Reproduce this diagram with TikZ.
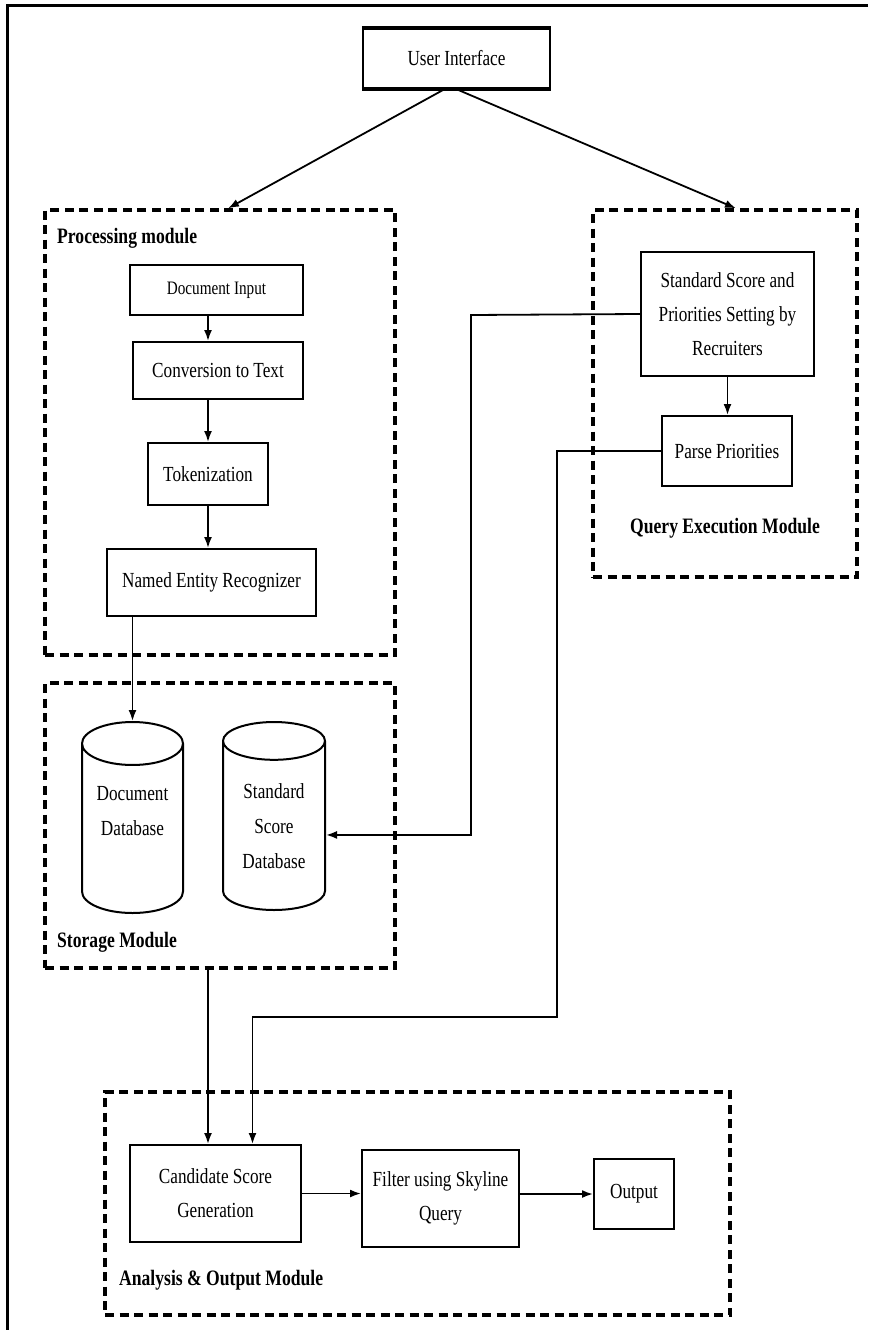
\documentclass[tikz,border=0pt]{standalone}
\usepackage{fontspec}
\setmainfont{Liberation Serif}[FakeStretch=0.8]
\usetikzlibrary{shapes.geometric, arrows.meta, positioning}

\tikzset{
    box/.style={draw, line width=2pt, inner sep=0pt, align=center,
        font=\fontsize{21.5}{34}\selectfont},
    dbase/.style={cylinder, shape border rotate=90, aspect=0.6, draw,
        line width=2pt, inner sep=0pt, align=center, anchor=shape center,
        font=\fontsize{21.5}{35}\selectfont},
    module/.style={draw, line width=3.3pt, dash pattern=on 9pt off 5.5pt,
        inner sep=0pt},
    modlabel/.style={anchor=west, inner sep=0pt, font=\fontsize{22}{26}\selectfont\bfseries},
    arr/.style={-{Latex[length=11pt,width=8pt]}, line width=1.8pt}
}

\begin{document}
\begin{tikzpicture}[x=1pt, y=-1pt]
    \useasboundingbox (0,0) rectangle (868,1330);
    % outer frame (top and left only)
    \draw[line width=3pt] (868,6) -- (7,6) -- (7,1330);

    % User interface
    \node[box, line width=2.4pt, minimum width=187, minimum height=59] (ui) at (456.5,58.5) {User Interface};
    \draw[line width=4.5pt] (ui.north west) -- (ui.north east);
    \draw[line width=4.5pt] (ui.south west) -- (ui.south east);

    % Module frames
    \node[module, minimum width=350, minimum height=445] (proc) at (220,432.5) {};
    \node[module, minimum width=350, minimum height=285] (stor) at (220,825.5) {};
    \node[module, minimum width=264, minimum height=367] (query) at (725,393.5) {};
    \node[module, minimum width=625, minimum height=223] (anl) at (417.5,1203.5) {};

    \node[modlabel] (proclbl) at (57,238) {Processing module};
    \node[modlabel] (storlbl) at (57,942) {Storage Module};
    \node[modlabel, anchor=center] (querylbl) at (725,528) {Query Execution Module};
    \node[modlabel] (anllbl) at (119,1280) {Analysis \& Output Module};

    % Processing module
    \node[box, font=\fontsize{19}{30}\selectfont, minimum width=173, minimum height=50] (din) at (216.5,290) {Document Input};
    \node[box, minimum width=170, minimum height=57] (conv) at (218,370.5) {Conversion to Text};
    \node[box, minimum width=120, minimum height=62] (tok) at (208,474) {Tokenization};
    \node[box, minimum width=209, minimum height=67] (ner) at (211.5,582.5) {Named Entity Recognizer};

    % Storage module
    \node[dbase, minimum width=101, minimum height=191] (docdb) at (132.5,817.5) {Document\\Database\\\mbox{}};
    \node[dbase, minimum width=102, minimum height=188] (stddb) at (274,816) {Standard\\Score\\Database};

    % Query execution module
    \node[box, minimum width=173, minimum height=124] (std) at (727.5,314) {Standard Score and\\Priorities Setting by\\Recruiters};
    \node[box, minimum width=130, minimum height=70] (parse) at (727,451) {Parse Priorities};

    % Analysis & output module
    \node[box, minimum width=171, minimum height=97] (cand) at (215.5,1193.5) {Candidate Score\\Generation};
    \node[box, minimum width=157, minimum height=97] (filter) at (440.5,1198.5) {Filter using Skyline\\Query};
    \node[box, minimum width=80, minimum height=70] (output) at (634,1194) {Output};

    % bends
    \coordinate (jogA) at (471,315);
    \coordinate (jogB) at (557,1017);

    % Connectors
    \draw[arr] ([xshift=-12pt]ui.south) -- ([xshift=8pt]proc.north);
    \draw[arr] (ui.south) -- ([xshift=11pt]query.north);
    \draw[arr] (din.south -| tok.center) -- (conv.north -| tok.center);
    \draw[arr] (conv.south -| tok.center) -- (tok.north);
    \draw[arr] (tok.south) -- (ner.north -| tok.center);
    \draw[arr] (ner.south -| docdb.north) -- (docdb.north);
    \draw[arr] (std.south) -- (parse.north -| std.south);
    \draw[arr] (std.west) -- (jogA) |- ([yshift=-9pt]stddb.east);
    \draw[arr] (parse.west) -| (jogB) -| ([xshift=37pt]cand.north);
    \draw[arr] ([xshift=-12pt]stor.south) -- ([xshift=-12pt]stor.south |- cand.north);
    \draw[arr] (cand.east) -- (filter.west |- cand.east);
    \draw[arr] (filter.east |- output.west) -- (output.west);
\end{tikzpicture}
\end{document}
